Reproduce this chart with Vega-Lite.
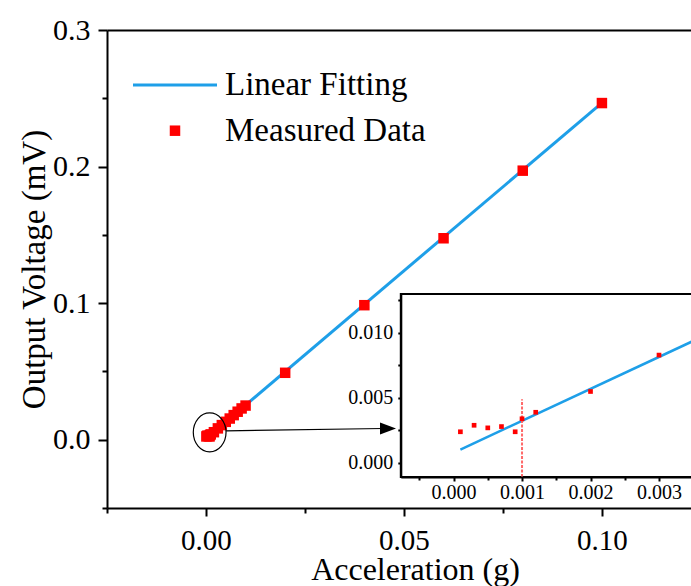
{
  "$schema": "https://vega.github.io/schema/vega-lite/v6.json",
  "autosize": {"type": "none"},
  "width": 584,
  "height": 478,
  "padding": {"left": 107, "top": 30, "right": 0, "bottom": 78},
  "background": "white",
  "config": {
    "view": {"stroke": null},
    "font": "Liberation Serif",
    "axis": {
      "grid": false,
      "domainColor": "black",
      "domainWidth": 2,
      "tickColor": "black",
      "tickWidth": 2,
      "labelColor": "black",
      "titleColor": "black",
      "labelFont": "Liberation Serif",
      "titleFont": "Liberation Serif",
      "titleFontWeight": "normal",
      "labelFlush": false,
      "labelOverlap": false
    }
  },
  "datasets": {
    "measured": [
      {"x": 0.0001, "y": 0.0024, "series": "Measured Data"},
      {"x": 0.0003, "y": 0.0029, "series": "Measured Data"},
      {"x": 0.0005, "y": 0.0027, "series": "Measured Data"},
      {"x": 0.0007, "y": 0.0028, "series": "Measured Data"},
      {"x": 0.0009, "y": 0.0024, "series": "Measured Data"},
      {"x": 0.001, "y": 0.0034, "series": "Measured Data"},
      {"x": 0.0012, "y": 0.0039, "series": "Measured Data"},
      {"x": 0.002, "y": 0.0055, "series": "Measured Data"},
      {"x": 0.003, "y": 0.0083, "series": "Measured Data"},
      {"x": 0.004, "y": 0.0107, "series": "Measured Data"},
      {"x": 0.005, "y": 0.0131, "series": "Measured Data"},
      {"x": 0.006, "y": 0.0155, "series": "Measured Data"},
      {"x": 0.007, "y": 0.018, "series": "Measured Data"},
      {"x": 0.008, "y": 0.0205, "series": "Measured Data"},
      {"x": 0.009, "y": 0.0229, "series": "Measured Data"},
      {"x": 0.01, "y": 0.025, "series": "Measured Data"},
      {"x": 0.02, "y": 0.049, "series": "Measured Data"},
      {"x": 0.04, "y": 0.0985, "series": "Measured Data"},
      {"x": 0.06, "y": 0.1475, "series": "Measured Data"},
      {"x": 0.08, "y": 0.197, "series": "Measured Data"},
      {"x": 0.1, "y": 0.2465, "series": "Measured Data"}
    ],
    "fit": [
      {"x": 0.0001, "y": 0.00103, "series": "Linear Fitting"},
      {"x": 0.1, "y": 0.2466, "series": "Linear Fitting"}
    ]
  },
  "layer": [
    {
      "layer": [
        {
          "data": {"name": "fit"},
          "mark": {"type": "line", "strokeWidth": 3},
          "encoding": {
            "x": {"field": "x", "type": "quantitative",
              "scale": {"domain": [-0.025, 0.1225], "nice": false, "zero": false},
              "axis": {"orient": "bottom", "values": [0, 0.05, 0.1], "format": ".2f", "tickSize": 8,
                "labelFontSize": 29, "labelBaseline": "alphabetic", "labelPadding": 33,
                "title": "Acceleration (g)", "titleFontSize": 32, "titleX": 308, "titleY": 71,
                "titleBaseline": "alphabetic", "titleAlign": "center"}},
            "y": {"field": "y", "type": "quantitative",
              "scale": {"domain": [-0.05, 0.3], "nice": false, "zero": false},
              "axis": {"orient": "left", "values": [0, 0.1, 0.2, 0.3], "format": ".1f", "tickSize": 9,
                "labelPadding": 8, "labelFontSize": 30,
                "title": "Output Voltage (mV)", "titleFontSize": 33, "titleX": -63, "titleY": 239,
                "titleBaseline": "alphabetic", "titleAngle": -90, "titleAlign": "center"}},
            "stroke": {"field": "series", "type": "nominal",
              "scale": {"domain": ["Linear Fitting"], "range": ["#1E9FE8"]},
              "legend": {"orient": "none", "legendX": 24.5, "legendY": 11.5, "padding": 0, "title": null,
                "symbolType": "stroke", "symbolSize": 7056, "symbolStrokeWidth": 3, "symbolOffset": 0,
                "labelOffset": 6.5, "labelFontSize": 33, "labelFont": "Liberation Serif",
                "labelColor": "black", "labelLimit": 500}}
          }
        },
        {
          "data": {"name": "measured"},
          "mark": {"type": "point", "shape": "square", "filled": true, "size": 110, "opacity": 1},
          "encoding": {
            "x": {"field": "x", "type": "quantitative",
              "scale": {"domain": [-0.025, 0.1225], "nice": false, "zero": false},
              "axis": {"orient": "bottom", "values": [-0.025, 0.025, 0.075, 0.125], "tickSize": 5,
                "labels": false, "domain": false, "title": null}},
            "y": {"field": "y", "type": "quantitative",
              "scale": {"domain": [-0.05, 0.3], "nice": false, "zero": false},
              "axis": {"orient": "left", "values": [-0.05, 0.05, 0.15, 0.25], "tickSize": 5,
                "labels": false, "domain": false, "title": null}},
            "fill": {"field": "series", "type": "nominal",
              "scale": {"domain": ["Measured Data"], "range": ["#FF0000"]},
              "legend": {"orient": "none", "legendX": 51.5, "legendY": 84.2, "padding": 0, "title": null,
                "symbolType": "square", "symbolSize": 110, "symbolStrokeWidth": 0, "symbolOffset": 0,
                "symbolOpacity": 1, "labelOffset": 33.5, "labelFontSize": 33, "labelFont": "Liberation Serif",
                "labelColor": "black", "labelLimit": 500}}
          }
        },
        {
          "data": {"values": [{}]},
          "mark": {"type": "point", "shape": "M -0.84 0 A 0.84 1 0 1 1 0.84 0 A 0.84 1 0 1 1 -0.84 0 Z",
            "size": 1521, "filled": false, "color": "black", "strokeWidth": 1.2, "opacity": 1},
          "encoding": {
            "x": {"datum": 0.00093, "type": "quantitative",
              "axis": {"orient": "top", "ticks": false, "labels": false, "title": null, "domain": true}},
            "y": {"datum": 0.0054, "type": "quantitative", "axis": null}
          }
        },
        {
          "data": {"values": [{}]},
          "mark": {"type": "rule", "color": "black", "strokeWidth": 1.2},
          "encoding": {
            "x": {"datum": 0.00505, "type": "quantitative", "axis": null},
            "y": {"datum": 0.0065, "type": "quantitative", "axis": null},
            "x2": {"datum": 0.0447},
            "y2": {"datum": 0.0082}
          }
        },
        {
          "data": {"values": [{}]},
          "mark": {"type": "point", "shape": "M 0 0 L -2 -0.75 L -2 0.75 Z", "size": 256,
            "filled": true, "color": "black", "opacity": 1},
          "encoding": {
            "x": {"datum": 0.048, "type": "quantitative", "axis": null},
            "y": {"datum": 0.0083, "type": "quantitative", "axis": null}
          }
        }
      ],
      "resolve": {"axis": {"x": "independent", "y": "independent"}}
    },
    {
      "layer": [
        {
          "data": {"values": [{}]},
          "mark": {"type": "rect", "fill": "white", "stroke": "black", "strokeWidth": 2},
          "encoding": {
            "x": {"datum": -0.00077, "type": "quantitative",
              "scale": {"domain": [-0.00077, 0.0036], "range": [293.8, 593.1], "nice": false, "zero": false},
              "axis": {"orient": "bottom", "offset": -31, "values": [-0.0005, 0.0005, 0.0015, 0.0025, 0.0035],
                "tickSize": 3, "labels": false, "domain": false, "title": null, "zindex": 1}},
            "x2": {"datum": 0.0036},
            "y": {"datum": -0.00108, "type": "quantitative",
              "scale": {"domain": [-0.00108, 0.013], "range": [447, 264], "nice": false, "zero": false},
              "axis": {"orient": "left", "offset": -293.8, "values": [0.0025, 0.0075, 0.0125],
                "tickSize": 3, "labels": false, "domain": false, "title": null, "zindex": 1}},
            "y2": {"datum": 0.013}
          }
        },
        {
          "data": {"name": "fit"},
          "mark": {"type": "line", "color": "#1E9FE8", "strokeWidth": 2.5},
          "encoding": {
            "x": {"field": "x", "type": "quantitative",
              "axis": {"orient": "bottom", "offset": -31, "values": [0, 0.001, 0.002, 0.003], "format": ".3f",
                "tickSize": 4, "labelPadding": 17, "labelBaseline": "alphabetic", "labelFontSize": 20,
                "title": null, "zindex": 1}},
            "y": {"field": "y", "type": "quantitative",
              "axis": {"orient": "left", "offset": -293.8, "values": [0, 0.005, 0.01], "format": ".3f",
                "tickSize": 3, "labelPadding": 5, "labelFontSize": 20, "title": null, "zindex": 1}}
          }
        },
        {
          "data": {"values": [{}]},
          "mark": {"type": "rule", "color": "#FF6A6A", "strokeWidth": 2, "strokeDash": [3, 1.5]},
          "encoding": {
            "x": {"datum": 0.001, "type": "quantitative", "axis": null},
            "y": {"datum": -0.00108, "type": "quantitative", "axis": null},
            "y2": {"datum": 0.0049}
          }
        },
        {
          "data": {"name": "measured"},
          "transform": [{"filter": "datum.x <= 0.0035"}],
          "mark": {"type": "point", "shape": "square", "filled": true, "size": 22, "color": "#FF0000", "opacity": 1},
          "encoding": {
            "x": {"field": "x", "type": "quantitative", "axis": null},
            "y": {"field": "y", "type": "quantitative", "axis": null}
          }
        }
      ],
      "resolve": {"axis": {"x": "independent", "y": "independent"}}
    }
  ],
  "resolve": {"scale": {"x": "independent", "y": "independent"}}
}
